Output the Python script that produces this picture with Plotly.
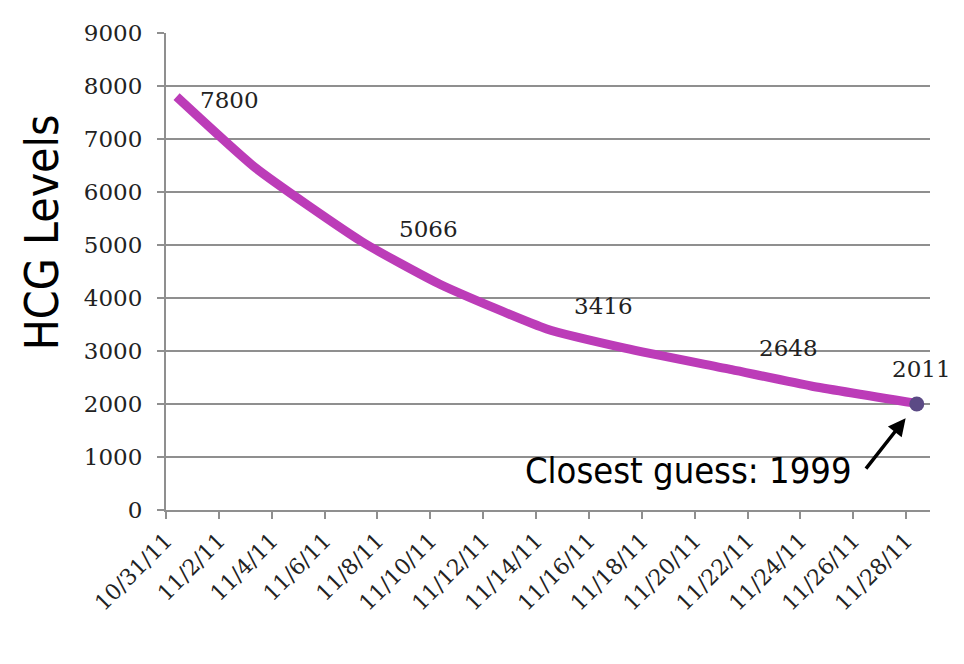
import plotly.graph_objects as go
from datetime import datetime, timedelta

# ---- data ----
dates = ["2011-10-31", "2011-11-03", "2011-11-07", "2011-11-10", "2011-11-14",
         "2011-11-17", "2011-11-21", "2011-11-24", "2011-11-28"]
hcg = [7800, 6450, 5066, 4250, 3416, 3050, 2648, 2340, 2011]
labeled_points = [("2011-10-31", 7800), ("2011-11-07", 5066), ("2011-11-14", 3416),
                  ("2011-11-21", 2648), ("2011-11-28", 2011)]
guess_date = "2011-11-28"
guess_value = 1999
tick_dates = ["2011-10-31", "2011-11-02", "2011-11-04", "2011-11-06", "2011-11-08",
              "2011-11-10", "2011-11-12", "2011-11-14", "2011-11-16", "2011-11-18",
              "2011-11-20", "2011-11-22", "2011-11-24", "2011-11-26", "2011-11-28"]
tick_labels = ["10/31/11", "11/2/11", "11/4/11", "11/6/11", "11/8/11", "11/10/11",
               "11/12/11", "11/14/11", "11/16/11", "11/18/11", "11/20/11", "11/22/11",
               "11/24/11", "11/26/11", "11/28/11"]
y_ticks = [0, 1000, 2000, 3000, 4000, 5000, 6000, 7000, 8000, 9000]

# ---- styling ----
LINE = "#BC3CB8"
DOT = "#5B4A85"
GRID = "#8f8f8f"
YFONT = dict(family="DejaVu Serif, serif", size=23, color="#222222")
XFONT = dict(family="DejaVu Serif, serif", size=22, color="#222222")
HAND = "Liberation Sans Narrow, DejaVu Sans Condensed, sans-serif"

offset = timedelta(hours=9.6)  # excel date axis: tick at start of day slot


def d(s):
    return datetime.strptime(s, "%Y-%m-%d")


tickvals = [d(t) - offset for t in tick_dates]
x_start = d(tick_dates[0]) - offset
x_end = x_start + timedelta(days=28.9)

fig = go.Figure()
fig.add_trace(go.Scatter(
    x=dates, y=hcg, mode="lines",
    line=dict(color=LINE, width=9, shape="spline", smoothing=0.5),
    hoverinfo="skip", showlegend=False))
fig.add_trace(go.Scatter(
    x=[guess_date], y=[guess_value], mode="markers",
    marker=dict(color=DOT, size=15),
    hoverinfo="skip", showlegend=False))

shifts = [(53, -3), (67, 13), (57, 23), (57, 22), (5, 34)]
for (dt, v), (sx, sy) in zip(labeled_points, shifts):
    fig.add_annotation(x=dt, y=v, text=str(v), showarrow=False,
                       xshift=sx, yshift=sy, font=YFONT)

# plot area in page pixels: left 166, right 930, top 29, bottom 510 (page has 8px body margin)
PL, PR, PT, PB = 166, 930, 29, 510


def px(xp):
    return (xp - PL) / (PR - PL)


def py(yp):
    return (PB - yp) / (PB - PT)


# handwritten note and arrow
fig.add_annotation(x=guess_date, y=guess_value, text="", showarrow=True,
                   arrowhead=2, arrowsize=1, arrowwidth=3.5, arrowcolor="#000000",
                   ax=-52, ay=66, standoff=18)
fig.add_annotation(xref="paper", yref="paper", x=px(688), y=py(470),
                   xanchor="center", yanchor="middle",
                   text="Closest guess: 1999", showarrow=False,
                   font=dict(family=HAND, size=36, color="#000000"))
fig.add_annotation(xref="paper", yref="paper", x=px(42), y=py(230),
                   xanchor="center", yanchor="middle",
                   text="HCG Levels", textangle=-90, showarrow=False,
                   font=dict(family=HAND, size=46, color="#000000"))

fig.update_layout(
    width=948, height=648,
    margin=dict(l=PL - 8, r=8 + 948 - PR, t=PT - 8, b=8 + 648 - PB),
    paper_bgcolor="white", plot_bgcolor="white",
    xaxis=dict(
        range=[x_start, x_end], tickvals=tickvals, ticktext=tick_labels,
        tickangle=-45, ticks="outside", ticklen=7, tickwidth=2, tickcolor=GRID,
        showgrid=False, showline=True, linecolor=GRID, linewidth=2,
        tickfont=XFONT, zeroline=False),
    yaxis=dict(
        range=[0, 9000], tickvals=y_ticks, ticks="outside", ticklen=7, tickwidth=2,
        tickcolor=GRID, showgrid=True, gridcolor=GRID, gridwidth=2,
        showline=True, linecolor=GRID, linewidth=2, zeroline=False,
        tickfont=YFONT, ticklabelstandoff=10),
)

fig.write_html("out.html")
